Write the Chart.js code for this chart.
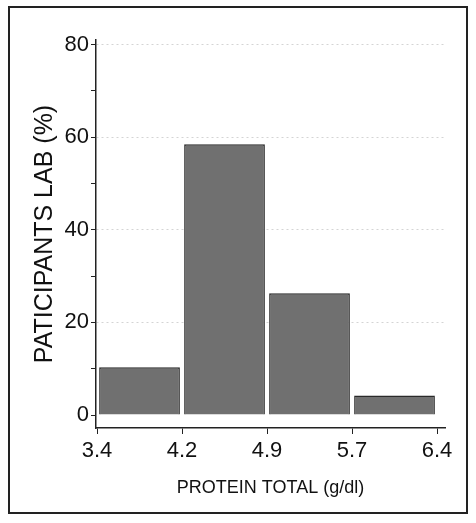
<!DOCTYPE html>
<html>
<head>
<meta charset="utf-8">
<script src="https://cdn.jsdelivr.net/npm/chart.js@4"></script>
<style>
  body { margin: 0; background: #fff; }
  #wrap { position: relative; width: 476px; height: 523px; }
  #frame { position: absolute; left: 8px; top: 6px; width: 460px; height: 508px; border: 2px solid #222; box-sizing: border-box; }
  canvas { position: absolute; left: 0; top: 0; }
</style>
</head>
<body>
<div id="wrap">
  <div id="frame"></div>
  <canvas id="myChart" width="476" height="523"></canvas>
</div>
<script>
const binCenters = [0.5, 1.5, 2.5, 3.5]
const percents = [10.3, 58.5, 26.3, 4.2]
const xTickLabels = ["3.4", "4.2", "4.9", "5.7", "6.4"]
const yTicks = [0, 10, 20, 30, 40, 50, 60, 70, 80]
const yLabelled = [0, 20, 40, 60, 80]

const font = "'Liberation Sans Narrow', 'Arial Narrow', 'Liberation Sans', sans-serif"

function my_histogram() {
    new Chart("myChart", {
        type: "bar",
        data: {
            datasets: [{
                data: binCenters.map((x, i) => ({ x: x, y: percents[i] })),
                backgroundColor: '#707070',
                borderColor: '#2a2a2a',
                borderWidth: 1.5,
                barPercentage: 0.95,
                categoryPercentage: 1
            }]
        },
        options: {
            responsive: false,
            animation: false,
            layout: { padding: { top: 40, right: 31, left: 0, bottom: 0 } },
            scales: {
                x: {
                    type: 'linear',
                    offset: false,
                    min: -0.012,
                    max: 4.094,
                    afterBuildTicks: s => { s.ticks = xTickLabels.map((t, i) => ({ value: i })) },
                    afterFit: s => { s.height = 95 },
                    ticks: {
                        callback: v => xTickLabels[v],
                        color: '#111',
                        font: { family: font, size: 22 },
                        padding: 4,
                        maxRotation: 0
                    },
                    grid: { offset: false, drawOnChartArea: false, color: '#222', tickLength: 6 },
                    border: { color: '#222', width: 1.5 },
                    title: {
                        display: true,
                        text: 'PROTEIN TOTAL (g/dl)',
                        color: '#111',
                        font: { family: font, size: 18 },
                        padding: { top: 24, bottom: 24 }
                    }
                },
                y: {
                    min: -2.8,
                    max: 81,
                    afterBuildTicks: s => { s.ticks = yTicks.map(v => ({ value: v })) },
                    afterFit: s => { s.width = 96 },
                    ticks: {
                        callback: v => yLabelled.includes(v) ? v : '',
                        color: '#111',
                        font: { family: font, size: 22 },
                        padding: 2
                    },
                    grid: {
                        color: c => (c.tick && c.tick.value % 20 === 0 && c.tick.value > 0) ? '#d4d4d4' : 'rgba(0,0,0,0)',
                        tickColor: '#222',
                        tickLength: 5,
                        lineWidth: 1
                    },
                    border: { color: '#222', width: 1.5, dash: [2, 3] },
                    title: {
                        display: true,
                        text: 'PATICIPANTS LAB (%)',
                        color: '#111',
                        font: { family: "'Liberation Sans', sans-serif", size: 25 },
                        padding: { top: 30, bottom: 0 }
                    }
                }
            },
            plugins: {
                legend: { display: false },
                tooltip: { enabled: false }
            }
        }
    })
}

my_histogram()
</script>
</body>
</html>
